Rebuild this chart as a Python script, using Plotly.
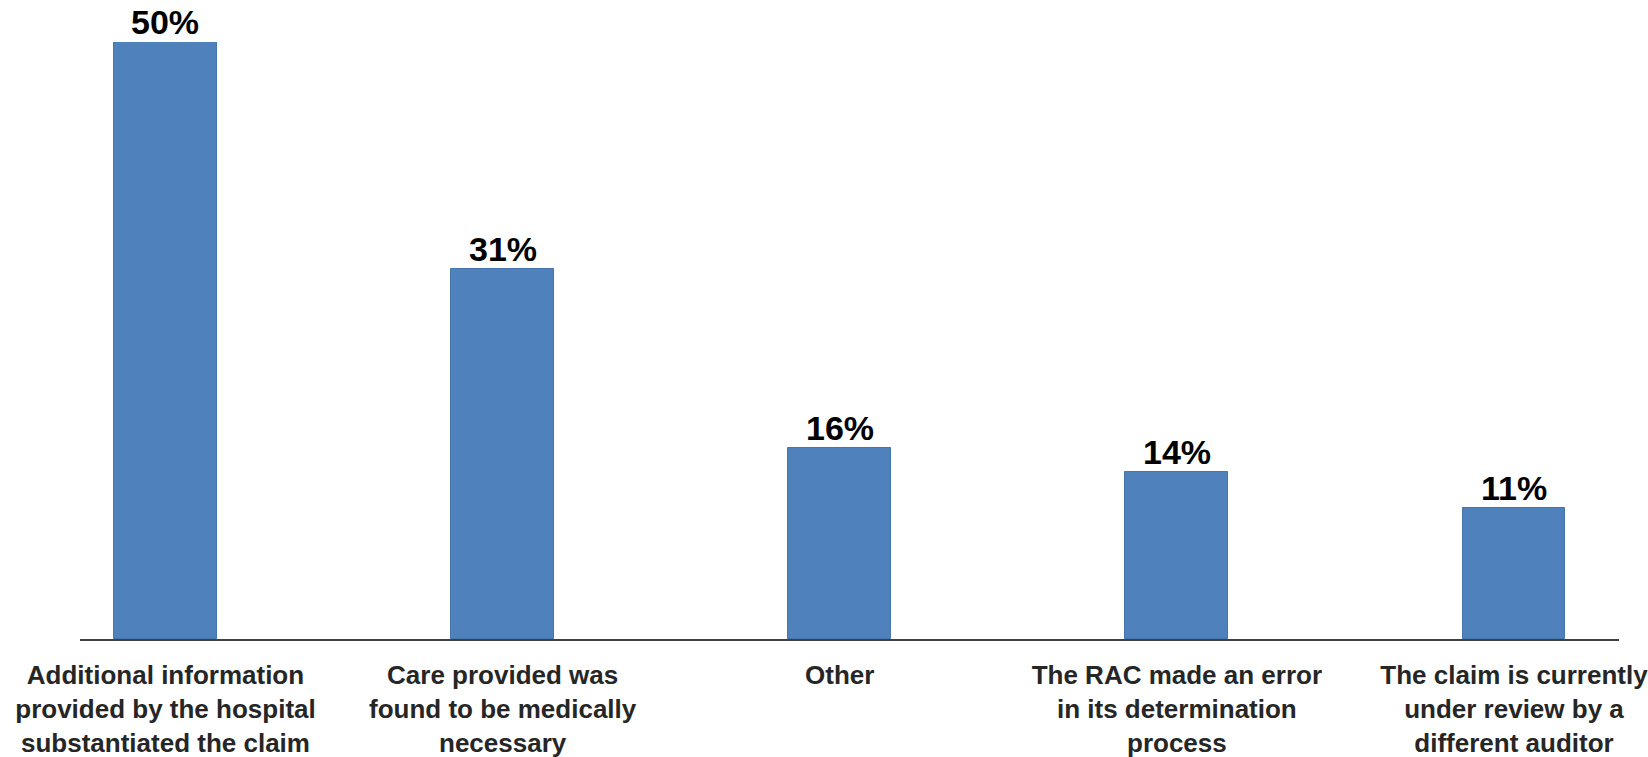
import plotly.graph_objects as go

# Reasons cited for overturned claim denials (share of respondents, %)
categories = [
    "Additional information<br>provided by the hospital<br>substantiated the claim",
    "Care provided was<br>found to be medically<br>necessary",
    "Other",
    "The RAC made an error<br>in its determination<br>process",
    "The claim is currently<br>under review by a<br>different auditor",
]
values = [50, 31, 16, 14, 11]
value_labels = ["50%", "31%", "16%", "14%", "11%"]

positions = list(range(len(categories)))

BAR_FILL = "#4F81BD"
BAR_EDGE = "#4675AE"
FONT = "Liberation Sans, Arial, sans-serif"

fig = go.Figure()
fig.add_trace(
    go.Bar(
        x=positions,
        y=values,
        width=0.305,
        marker=dict(color=BAR_FILL, line=dict(color=BAR_EDGE, width=1)),
        hoverinfo="skip",
    )
)

# Percentage labels sit just above each bar
for pos, val, lab in zip(positions, values, value_labels):
    fig.add_annotation(
        x=pos,
        y=val,
        text=f"<b>{lab}</b>",
        showarrow=False,
        xanchor="center",
        yanchor="bottom",
        yshift=0,
        borderpad=0,
        font=dict(family=FONT, size=34, color="#000000"),
    )

fig.update_layout(
    width=1648,
    height=757,
    margin=dict(l=80, r=29, t=42, b=117.5, autoexpand=False),
    paper_bgcolor="white",
    plot_bgcolor="white",
    showlegend=False,
    bargap=0,
    xaxis=dict(
        range=[-0.2536, 4.3115],
        tickmode="array",
        tickvals=positions,
        ticktext=[f"<b>{c}</b>" for c in categories],
        tickfont=dict(family=FONT, size=26, color="#262626"),
        ticks="",
        ticklabelstandoff=12,
        ticklabeloverflow="allow",
        automargin=False,
        showline=True,
        linecolor="#404040",
        linewidth=2,
        showgrid=False,
        zeroline=False,
        fixedrange=True,
    ),
    yaxis=dict(
        range=[0, 50],
        visible=False,
        showgrid=False,
        zeroline=False,
        fixedrange=True,
    ),
)

fig.write_html("out.html")
